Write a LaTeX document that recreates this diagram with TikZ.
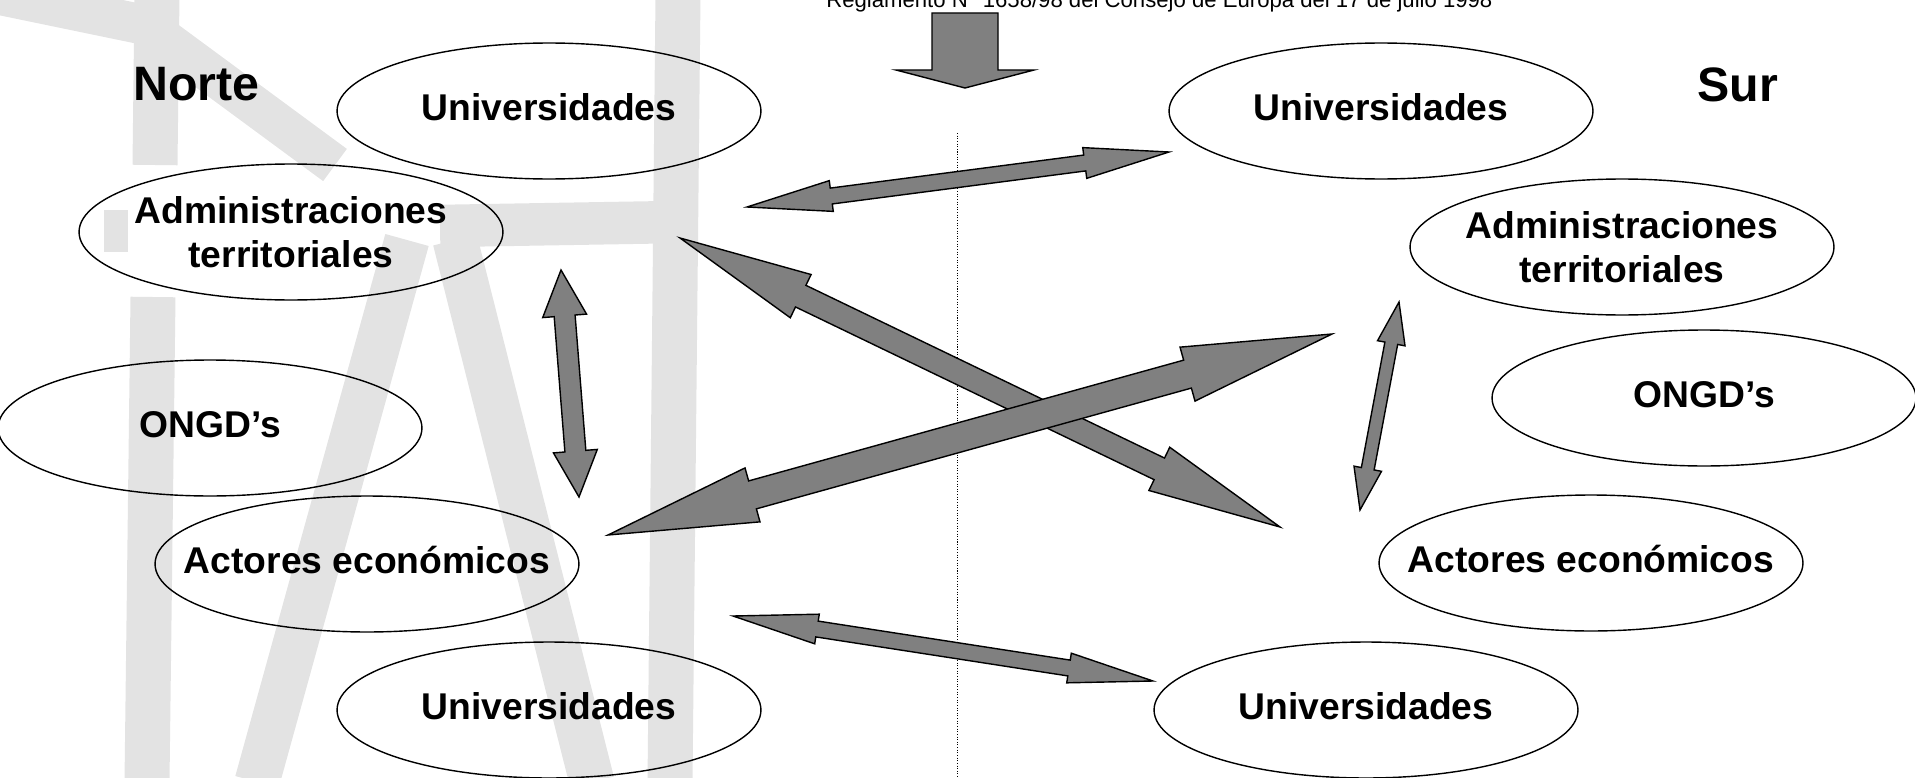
\documentclass[tikz,border=0pt]{standalone}
\usepackage{fontspec}
\setmainfont{Liberation Sans}
\usetikzlibrary{shapes.geometric,calc}

\definecolor{markgray}{gray}{0.89}
\definecolor{arrowgray}{gray}{0.5}

\tikzstyle{actor} = [draw, ellipse, line width=0.8pt, inner xsep=-20pt, inner ysep=0pt,
    minimum width=8.48cm, minimum height=2.72cm, align=center, text depth=0.15cm,
    font=\fontsize{21.2}{25}\selectfont\bfseries]
\tikzstyle{side} = [anchor=base west, inner sep=0pt, font=\fontsize{27.5}{32}\selectfont\bfseries]
\tikzstyle{band} = [draw=markgray, line width=0.9cm]
\tikzstyle{bigarrow} = [draw=black, fill=arrowgray, line width=0.8pt, line join=miter]

% double block arrow: name, tip, tip, half shaft, half head, head length
\newcommand{\twoway}[6]{%
  \path ($(#2)!#6!(#3)$) coordinate (#1-h1)
        ($(#3)!#6!(#2)$) coordinate (#1-h2);
  \filldraw[bigarrow] (#2) -- ($(#1-h1)!#5!90:(#3)$) -- ($(#1-h1)!#4!90:(#3)$)
    -- ($(#1-h2)!#4!-90:(#2)$) -- ($(#1-h2)!#5!-90:(#2)$) -- (#3)
    -- ($(#1-h2)!#5!90:(#2)$) -- ($(#1-h2)!#4!90:(#2)$)
    -- ($(#1-h1)!#4!-90:(#3)$) -- ($(#1-h1)!#5!-90:(#3)$) -- cycle;
}

\begin{document}
\begin{tikzpicture}[x=0.02cm, y=-0.02cm]
    \useasboundingbox (0,0) rectangle (1915,777);

    % watermark
    \draw [band, line width=0.8cm, line join=round] (0,-5) -- (145,25) -- (335,165);
    \draw [band] (157,-5) -- (155,165);
    \draw [band] (153,297) -- (147,782);
    \draw [band] (678,-5) -- (670,782);
    \draw [band, line width=0.85cm] (104,231) -- (128,231);
    \draw [band, line width=0.85cm] (440,226) -- (678,222);
    \draw [band] (407,240) -- (257,782);
    \draw [band] (455,240) -- (592,782);

    \draw [line width=0.5pt, dash pattern=on 0.6pt off 0.9pt] (957,133) -- (957,782);

    \node [anchor=base west, inner sep=0pt, font=\fontsize{12.6}{15}\selectfont] (reg) at (826,8)
        {Reglamento N° 1658/98 del Consejo de Europa del 17 de julio 1998};
    \draw [bigarrow] (932,13) -- (998,13) -- (998,70) -- (1034,70) -- (965,88)
        -- (896,70) -- (932,70) -- cycle;

    \node [side] (norte) at (133,100) {Norte};
    \node [side] (sur) at (1697,101) {Sur};

    \node [actor] (uniN1) at (549,111) {Universidades};
    \node [actor, text depth=0pt] (admN) at (291,232) {Administraciones\\territoriales};
    \node [actor] (ongN) at (210,428) {ONGD’s};
    \node [actor] (ecoN) at (367,564) {Actores económicos};
    \node [actor] (uniN2) at (549,710) {Universidades};

    \node [actor] (uniS1) at (1381,111) {Universidades};
    \node [actor, text depth=0pt] (admS) at (1622,247) {Administraciones\\territoriales};
    \node [actor] (ongS) at (1704,398) {ONGD’s};
    \node [actor] (ecoS) at (1591,563) {Actores económicos};
    \node [actor] (uniS2) at (1366,710) {Universidades};

    \coordinate (t1a) at (747,207);  \coordinate (t1b) at (1169,152);
    \coordinate (t2a) at (680,238);  \coordinate (t2b) at (1280,527);
    \coordinate (t3a) at (608,535);  \coordinate (t3b) at (1332,334);
    \coordinate (t4a) at (561,270);  \coordinate (t4b) at (579,497);
    \coordinate (t5a) at (1399,302); \coordinate (t5b) at (1360,510);
    \coordinate (t6a) at (733,616);  \coordinate (t6b) at (1153,681);

    \twoway{uni1}{t1a}{t1b}{0.16cm}{0.31cm}{1.7cm}
    \twoway{adm}{t2a}{t2b}{0.24cm}{0.48cm}{2.68cm}
    \twoway{eco}{t3a}{t3b}{0.29cm}{0.56cm}{3cm}
    \twoway{north}{t4a}{t4b}{0.21cm}{0.44cm}{0.92cm}
    \twoway{south}{t5a}{t5b}{0.13cm}{0.28cm}{0.84cm}
    \twoway{uni2}{t6a}{t6b}{0.16cm}{0.30cm}{1.7cm}
\end{tikzpicture}
\end{document}
